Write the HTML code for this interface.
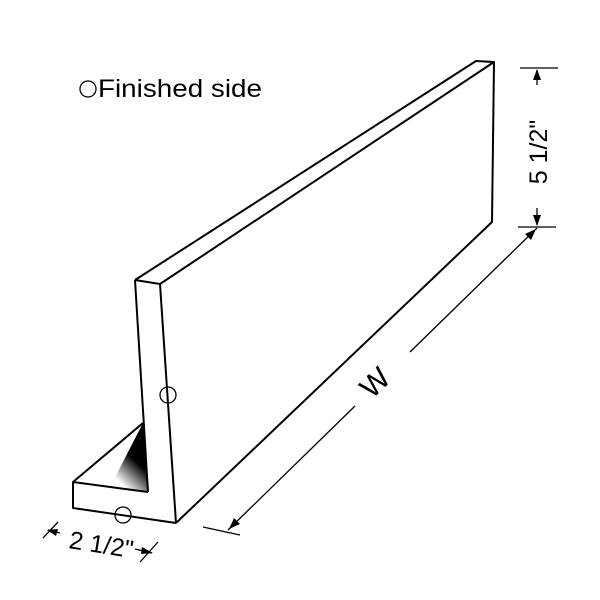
<!DOCTYPE html>
<html><head><meta charset="utf-8"><style>
html,body{margin:0;padding:0;background:#fff;}
svg{display:block;}
text{font-family:"Liberation Sans",sans-serif;fill:#000;}
</style></head><body>
<svg width="600" height="600" viewBox="0 0 600 600">
<defs>
<linearGradient id="sh" x1="146" y1="440" x2="112" y2="475" gradientUnits="userSpaceOnUse">
<stop offset="0" stop-color="#000"/><stop offset="0.45" stop-color="#000"/><stop offset="1" stop-color="#fff"/>
</linearGradient>
</defs>
<g stroke="#000" stroke-width="2" fill="none" stroke-linejoin="round">
<polygon points="143,423 148,492 110,487" fill="url(#sh)" stroke="none"/>
<polyline points="135,280 476,61 494,62 160,284 135,280"/>
<polyline points="135,280 148,492"/>
<polyline points="160,284 176,523"/>
<polyline points="494,62 492,222 176,523"/>
<polyline points="143,423 73,482 148,492"/>
<polyline points="73,482 73,508 176,523"/>
</g>
<g stroke="#000" stroke-width="1.3" fill="none">
<circle cx="168" cy="395" r="8"/>
<circle cx="123" cy="515" r="8"/>
<circle cx="88" cy="89" r="8"/>
<line x1="520" y1="68" x2="558" y2="68"/>
<line x1="518" y1="227" x2="556" y2="227"/>
<line x1="537" y1="70" x2="537" y2="85"/>
<line x1="537" y1="208" x2="537" y2="225"/>
<line x1="537" y1="228" x2="410" y2="352"/>
<line x1="355" y1="406" x2="228" y2="530"/>
<line x1="203" y1="527" x2="240" y2="535"/>
<line x1="43" y1="538" x2="58" y2="522"/>
<line x1="140" y1="562" x2="158" y2="542"/>
<line x1="48" y1="530" x2="60" y2="533"/>
<line x1="135" y1="549" x2="152" y2="553"/>
</g>
<g fill="#000">
<polygon points="537,69 533,80 541,80"/>
<polygon points="537,226 533,215 541,215"/>
<polygon points="536,229 525,234 531,240"/>
<polygon points="229,529 234,518 240,524"/>
<polygon points="47,530 58,529 56,536"/>
<polygon points="153,553 142,547 141,554"/>
</g>
<text x="98" y="97" font-size="25" textLength="164" lengthAdjust="spacingAndGlyphs">Finished side</text>
<text transform="translate(547,152) rotate(-90)" font-size="25" text-anchor="middle">5 1/2"</text>
<text transform="translate(382,390) rotate(-44)" font-size="30" text-anchor="middle">W</text>
<text transform="translate(100,553) rotate(9)" font-size="25" text-anchor="middle">2 1/2"</text>
</svg>
</body></html>
